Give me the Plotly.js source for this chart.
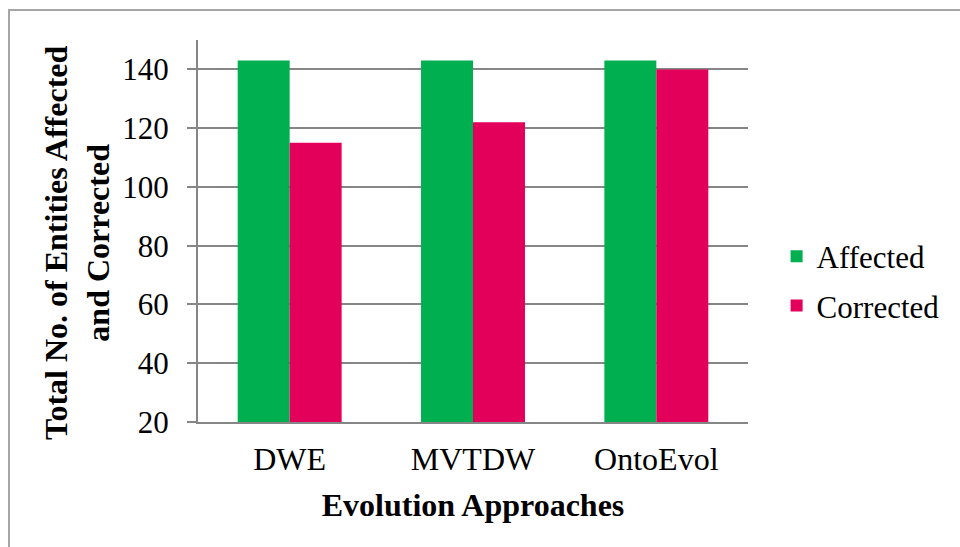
<!DOCTYPE html>
<html>
<head>
<meta charset="utf-8">
<script src="https://cdn.plot.ly/plotly-3.0.1.min.js"></script>
<style>
  html, body { margin: 0; padding: 0; background: #ffffff; }
  #wrap { position: relative; width: 960px; height: 547px; overflow: hidden; }
  #chart { position: absolute; left: 0; top: 0; width: 960px; height: 547px; }
  #frame {
    position: absolute; left: 8px; top: 9px; width: 980px; height: 560px;
    border-left: 2px solid #a6a6a6; border-top: 2px solid #a6a6a6;
    box-sizing: border-box; pointer-events: none;
  }
</style>
</head>
<body>
<div id="wrap">
  <div id="chart"></div>
  <div id="frame"></div>
</div>
<script>
// Evolution approaches compared
const approaches = ["DWE", "MVTDW", "OntoEvol"];
const affected = [143, 143, 143];
const corrected = [115, 122, 140];
const yTicks = [20, 40, 60, 80, 100, 120, 140];

const serif = "'Liberation Serif', 'Times New Roman', serif";
const grey = "#868686";

const traces = [
  {
    type: "bar", name: "Affected", x: approaches, y: affected,
    marker: { color: "#00B050" }, base: 0, legendgroup: "a"
  },
  {
    type: "bar", name: "Corrected", x: approaches, y: corrected,
    marker: { color: "#E3005A" }, base: 0, legendgroup: "c"
  }
];

const layout = {
  width: 960, height: 547,
  margin: { l: 198, r: 212, t: 40, b: 125 },
  paper_bgcolor: "#ffffff", plot_bgcolor: "#ffffff",
  barmode: "group", bargap: 0.433, bargroupgap: 0,
  font: { family: serif, size: 31, color: "#000000" },
  xaxis: {
    type: "category",
    showline: true, linecolor: grey, linewidth: 2,
    ticks: "", showgrid: false, zeroline: false,
    tickfont: { family: serif, size: 32, color: "#000000" },
    ticklabelstandoff: 8,
    title: {
      text: "<b>Evolution Approaches</b>",
      font: { family: serif, size: 32, color: "#000000" },
      standoff: 17
    }
  },
  yaxis: {
    range: [20, 150], tickvals: yTicks, ticktext: yTicks.map(String),
    showline: true, linecolor: grey, linewidth: 2,
    ticks: "outside", ticklen: 9, tickcolor: grey, tickwidth: 2,
    showgrid: true, gridcolor: grey, gridwidth: 2, zeroline: false,
    tickfont: { family: serif, size: 31, color: "#000000" },
    ticklabelstandoff: 12
  },
  legend: {
    x: 1.052, xanchor: "left", y: 0.369, yanchor: "middle",
    font: { family: serif, size: 31, color: "#000000" },
    bgcolor: "rgba(0,0,0,0)", traceorder: "grouped", tracegroupgap: 6
  },
  annotations: [
    {
      xref: "paper", yref: "paper", x: -0.2200, y: 0.4686,
      xanchor: "center", yanchor: "middle", textangle: -90, showarrow: false,
      text: "<b>Total No. of Entities Affected<br>and Corrected</b>",
      font: { family: serif, size: 32, color: "#000000" }
    }
  ]
};

Plotly.newPlot("chart", traces, layout, { displayModeBar: false, staticPlot: true });
</script>
</body>
</html>
